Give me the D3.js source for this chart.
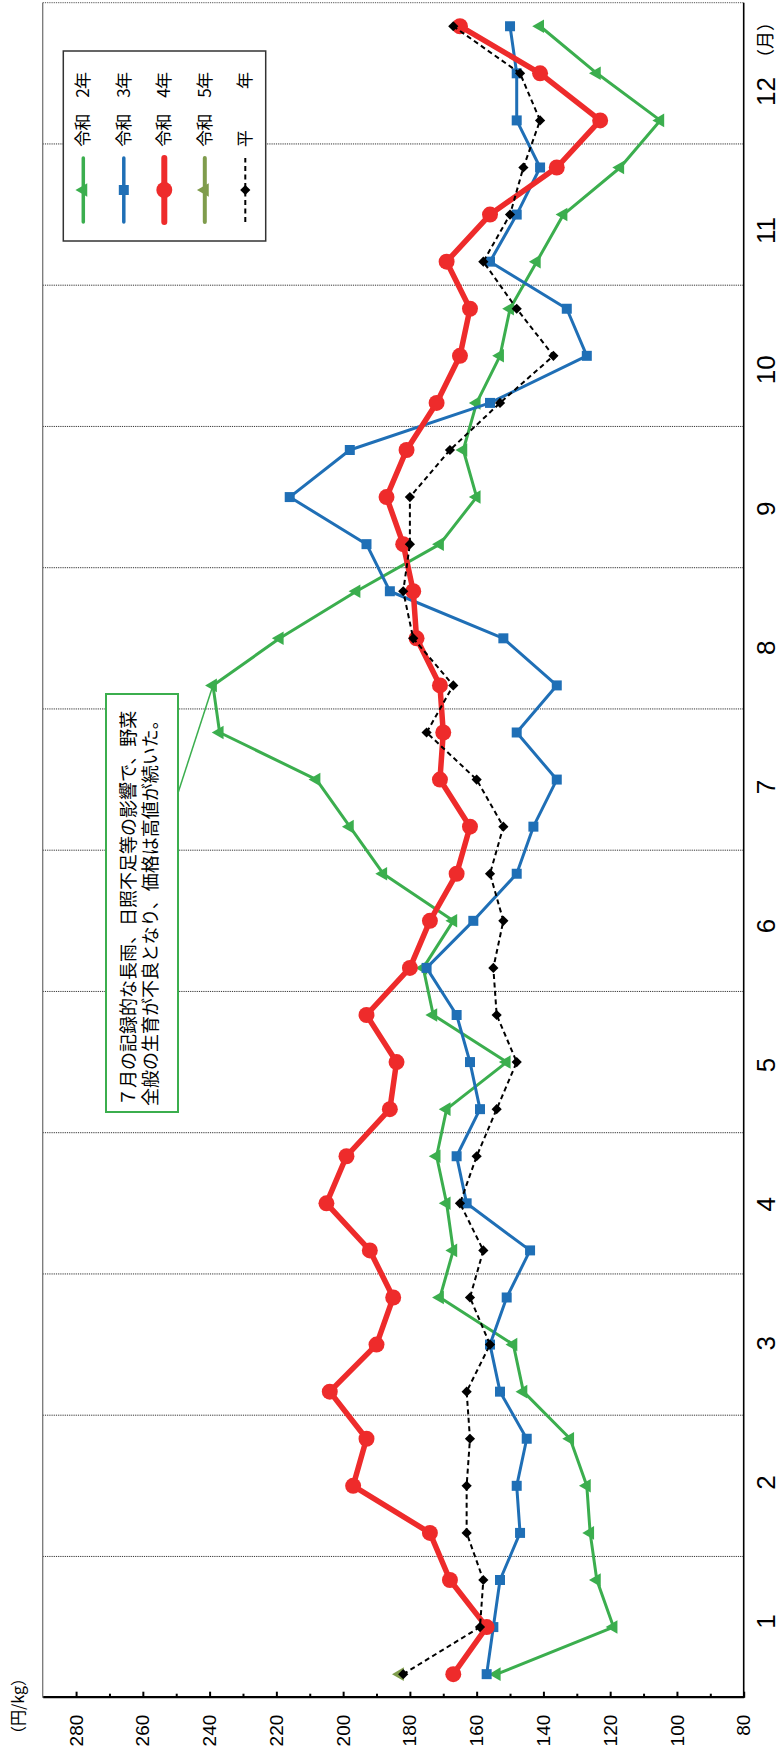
<!DOCTYPE html>
<html>
<head>
<meta charset="utf-8">
<script src="https://cdn.jsdelivr.net/npm/d3@7"></script>
<style>
  html, body { margin: 0; padding: 0; background: #fff; }
  svg { display: block; }
</style>
</head>
<body>
<svg id="chart" width="783" height="1752"></svg>
<script>
// Months and ten-day periods (上旬・中旬・下旬) along the category axis
const months = [1, 2, 3, 4, 5, 6, 7, 8, 9, 10, 11, 12];
const periods = ["上旬", "中旬", "下旬"];
const categories = months.flatMap(m => periods.map(p => m + "月" + p));

// Price axis ticks (円/kg)
const valueTicks = d3.range(80, 290, 10);

// Prices per ten-day period (円/kg)
const reiwa2 = [154, 119, 124, 126, 127, 132, 146, 149, 171, 167, 169, 172,
                169, 151, 173, 176, 167, 188, 198, 208, 237, 239, 219, 196,
                171, 160, 164, 160, 153, 150, 142, 134, 117, 105, 124, 141];
const reiwa3 = [157, 155, 153, 147, 148, 145, 153, 156, 151, 144, 163, 166,
                159, 162, 166, 175, 161, 148, 143, 136, 148, 136, 152, 186,
                193, 216, 198, 156, 127, 133, 156, 148, 141, 148, 148, 150];
const reiwa4 = [167, 157, 168, 174, 197, 193, 204, 190, 185, 192, 205, 199,
                186, 184, 193, 180, 174, 166, 162, 171, 170, 171, 178, 179,
                182, 187, 181, 172, 165, 162, 169, 156, 136, 123, 141, 165];
const reiwa5 = [183];
const normalYear = [182, 159, 158, 163, 163, 162, 163, 156, 162, 158, 165, 160,
                    154, 148, 154, 155, 152, 156, 152, 160, 175, 167, 179, 182,
                    180, 180, 168, 153, 137, 148, 158, 150, 146, 141, 147, 167];

const seriesLabels = ["令和　2年", "令和　3年", "令和　4年", "令和　5年", "平　　年"];
const noteLines = ["７月の記録的な長雨、日照不足等の影響で、野菜",
                   "全般の生育が不良となり、価格は高値が続いた。"];

const latin = "'Liberation Sans', Arial, sans-serif";
const cjk = "'Noto Sans CJK JP', 'Noto Sans', sans-serif";

const series = [
  { name: seriesLabels[0], values: reiwa2, color: "#3bae4e", width: 3,   legendWidth: 3.5, symbol: d3.symbolTriangle, size: 80,  rot: 0 },
  { name: seriesLabels[1], values: reiwa3, color: "#1f6fb6", width: 3,   legendWidth: 3.5, symbol: d3.symbolSquare,   size: 100, rot: 0 },
  { name: seriesLabels[2], values: reiwa4, color: "#ee2b2b", width: 5.5, legendWidth: 6,   symbol: d3.symbolCircle,   size: 200, rot: 0 },
  { name: seriesLabels[3], values: reiwa5, color: "#7f9c4c", width: 4,   legendWidth: 4,   symbol: d3.symbolTriangle, size: 80,  rot: 0 },
  { name: seriesLabels[4], values: normalYear, color: "#000", width: 2, legendWidth: 2,   symbol: d3.symbolSquare,   size: 52,  rot: 45, dash: "5,3.5" }
];

const svg = d3.select("#chart");
svg.append("rect").attr("width", 783).attr("height", 1752).attr("fill", "#fff");

// The chart is laid out landscape (1752 x 783) and turned a quarter turn
const W = 1752;
const g = svg.append("g").attr("transform", `translate(0,${W}) rotate(-90)`);

const plot = { left: 54.3, right: 1749.3, top: 42.7, bottom: 743.7 };

const x = d3.scaleBand().domain(categories).range([plot.left, plot.right]);
const cx = c => x(c) + x.bandwidth() / 2;
const y = d3.scaleLinear().domain([80, 290]).range([plot.bottom, plot.top]);
const monthScale = d3.scaleBand().domain(months).range([plot.left, plot.right]);
// Month labels sit on their own slightly tighter spacing
const monthLabel = d3.scalePoint().domain(months).range([130, 1660]);

// Month boundary gridlines
g.append("g").selectAll("line")
  .data(months.slice(1))
  .join("line")
  .attr("x1", m => monthScale(m)).attr("x2", m => monthScale(m))
  .attr("y1", plot.top).attr("y2", plot.bottom)
  .attr("stroke", "#333").attr("stroke-width", 1).attr("stroke-dasharray", "1.2,1");

// Frame edges
g.append("line")
  .attr("x1", plot.left).attr("x2", plot.right).attr("y1", plot.top).attr("y2", plot.top)
  .attr("stroke", "#777").attr("stroke-width", 1.3);
g.append("line")
  .attr("x1", plot.right).attr("x2", plot.right).attr("y1", plot.top).attr("y2", plot.bottom)
  .attr("stroke", "#555").attr("stroke-width", 1).attr("stroke-dasharray", "1.2,1");

// Month axis
const xa = g.append("g").attr("transform", `translate(0,${plot.bottom})`)
  .call(d3.axisBottom(monthLabel).tickSize(0).tickPadding(0));
xa.select(".domain").attr("d", `M${plot.left},0H${plot.right}`)
  .attr("stroke", "#000").attr("stroke-width", 1.6);
xa.selectAll("text")
  .attr("y", 22).attr("dy", "0.35em")
  .attr("font-family", latin).attr("font-size", 26).attr("fill", "#000");
g.append("text")
  .attr("x", monthLabel(12) + 25)
  .attr("y", plot.bottom + 22).attr("dy", "0.35em")
  .attr("font-family", cjk).attr("font-size", 18).attr("fill", "#000")
  .text("（月）");

// Price axis
const yAxis = d3.axisLeft(y)
  .tickValues(valueTicks)
  .tickSizeInner(-6).tickSizeOuter(0).tickPadding(17)
  .tickFormat(d => d % 20 === 0 ? d : "");
const ya = g.append("g").attr("transform", `translate(${plot.left},0)`).call(yAxis);
ya.select(".domain").attr("stroke", "#000").attr("stroke-width", 2.2);
ya.selectAll(".tick line")
  .attr("stroke", "#000").attr("stroke-width", 2)
  .attr("x2", d => d % 20 === 0 ? 6 : 4);
ya.selectAll(".tick text")
  .attr("font-family", latin).attr("font-size", 19).attr("fill", "#000");

g.append("text")
  .attr("x", 46).attr("y", 18).attr("text-anchor", "middle").attr("dy", "0.35em")
  .attr("font-family", cjk).attr("font-size", 16).attr("fill", "#000")
  .text("（円/kg）");

// Series lines and markers
const line = d3.line().x((d, i) => cx(categories[i])).y(d => y(d));
series.forEach(s => {
  const sg = g.append("g");
  if (s.values.length > 1) {
    sg.append("path").datum(s.values)
      .attr("d", line).attr("fill", "none")
      .attr("stroke", s.color).attr("stroke-width", s.width)
      .attr("stroke-linejoin", "round")
      .attr("stroke-dasharray", s.dash || null);
  }
  sg.selectAll("path.mk").data(s.values).join("path")
    .attr("class", "mk")
    .attr("d", d3.symbol(s.symbol, s.size))
    .attr("transform", (d, i) => `translate(${cx(categories[i])},${y(d)}) rotate(${s.rot})`)
    .attr("fill", s.color);
});

// Annotation box with leader line
const noteBox = { u0: 640, u1: 1058, v0: 106, v1: 178 };
const peakIdx = 21;
g.append("line")
  .attr("x1", 959).attr("y1", noteBox.v1)
  .attr("x2", cx(categories[peakIdx])).attr("y2", y(reiwa2[peakIdx]))
  .attr("stroke", "#3bae4e").attr("stroke-width", 1.5);
g.append("rect")
  .attr("x", noteBox.u0).attr("y", noteBox.v0)
  .attr("width", noteBox.u1 - noteBox.u0).attr("height", noteBox.v1 - noteBox.v0)
  .attr("fill", "#fff").attr("stroke", "#3bae4e").attr("stroke-width", 2);
g.append("g").selectAll("text").data(noteLines).join("text")
  .attr("x", noteBox.u0 + 6)
  .attr("y", (d, i) => 129 + i * 22)
  .attr("dy", "0.35em")
  .attr("font-family", cjk).attr("font-size", 18).attr("fill", "#000")
  .text(d => d);

// Legend
const lg = g.append("g");
lg.append("rect")
  .attr("x", 1511).attr("y", 63.3).attr("width", 190).attr("height", 202.4)
  .attr("fill", "#fff").attr("stroke", "#333").attr("stroke-width", 1.5);
const entry = lg.selectAll("g.entry").data(series).join("g")
  .attr("class", "entry")
  .attr("transform", (d, i) => `translate(0,${83.3 + i * 40.5})`);
entry.append("line")
  .attr("x1", 1530).attr("x2", 1594)
  .attr("stroke", d => d.color)
  .attr("stroke-width", d => d.legendWidth)
  .attr("stroke-linecap", d => d.dash ? "butt" : "round")
  .attr("stroke-dasharray", d => d.dash || null);
entry.append("path")
  .attr("d", d => d3.symbol(d.symbol, d.size)())
  .attr("transform", d => `translate(1562,0) rotate(${d.rot})`)
  .attr("fill", d => d.color);
entry.append("text")
  .attr("x", 1605).attr("dy", "0.35em")
  .attr("font-family", cjk).attr("font-size", 17).attr("fill", "#000")
  .attr("textLength", 75).attr("lengthAdjust", "spacing")
  .text(d => d.name);
</script>
</body>
</html>
